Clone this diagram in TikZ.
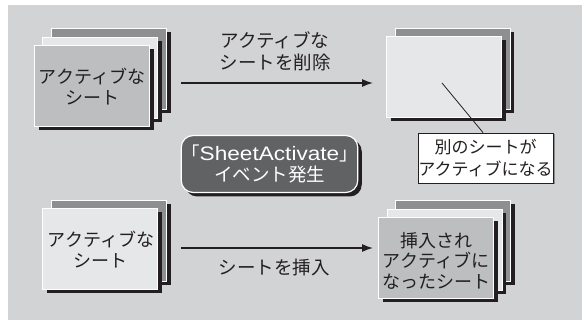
\documentclass[tikz,border=0pt]{standalone}
\usepackage{fontspec}
\setmainfont{Noto Sans CJK JP}
\newfontfamily\latinf[FakeStretch=1.16]{Liberation Sans}
\usetikzlibrary{arrows.meta,shadows}
\definecolor{bg}{HTML}{D2D3D5}
\definecolor{dk}{HTML}{8E8F91}
\definecolor{md}{HTML}{BDBEC0}
\definecolor{lt}{HTML}{E6E7E8}
\definecolor{ev}{HTML}{616264}
\definecolor{ink}{HTML}{231F20}
\tikzset{
  sheet/.style={rectangle, draw=white, line width=0.9pt, minimum width=115pt, minimum height=81pt, inner sep=0pt,
    drop shadow={shadow xshift=4pt, shadow yshift=-4pt, fill=ink, opacity=1}},
  sdark/.style={sheet, fill=dk},
  smid/.style={sheet, fill=md},
  slight/.style={sheet, fill=lt},
  txt/.style={font=\fontsize{18pt}{20.5pt}\selectfont, text=ink, align=center, inner sep=0pt},
  lbl/.style={txt, font=\fontsize{18.5pt}{22pt}\selectfont},
  arr/.style={draw=ink, line width=1.3pt, -{Latex[length=11pt,width=8pt]}},
  thin/.style={draw=ink, line width=0.8pt}
}
\begin{document}
\begin{tikzpicture}[x=1pt,y=-1pt]
\useasboundingbox (0,0) rectangle (582,320);
\fill[bg] (8,5) rectangle (582,320);
% top-left stack
\node[sdark] (tlb) at (109,69) {};
\node[slight] (tlm) at (100,78) {};
\node[smid] (tlf) at (92,86) {};
\node[txt] (tlt) at (92,86.5) {アクティブな\\シート};
% top-right stack
\node[sdark] (trb) at (452.5,69) {};
\node[slight] (trf) at (444,77) {};
% bottom-left stack
\node[sdark] (blb) at (109,240.5) {};
\node[slight] (blf) at (100,248.5) {};
\node[txt] (blt) at (101,249.5) {アクティブな\\シート};
% bottom-right stack
\node[sdark] (brb) at (453,241) {};
\node[slight] (brm) at (444.5,249.5) {};
\node[smid] (brf) at (436,257.5) {};
\node[txt] (brt) at (436,260.5) {挿入され\\アクティブに\\なったシート};
% arrows
\coordinate (a1s) at (181,83);
\coordinate (a1e) at (373,83);
\draw[arr] (a1s) -- (a1e);
\node[lbl] (a1l) at (275,51) {アクティブな\\シートを削除};
\coordinate (a2s) at (181,248);
\coordinate (a2e) at (373,248);
\draw[arr] (a2s) -- (a2e);
\node[lbl] (a2l) at (274,267.5) {シートを挿入};
% event box
\node[rectangle, rounded corners=12pt, fill=ev, draw=white, line width=1.2pt, minimum width=171pt, minimum height=57pt,
  drop shadow={shadow xshift=4pt, shadow yshift=-4pt, fill=ink, opacity=1},
  font=\fontsize{18.5pt}{21pt}\selectfont, text=white, align=center, inner sep=0pt] (ev) at (269.5,164)
  {「{\latinf\fontsize{19.5pt}{21pt}\selectfont SheetActivate}」\\イベント発生};
% callout
\node[rectangle, fill=white, draw=ink, line width=0.9pt, minimum width=135pt, minimum height=50pt, inner sep=0pt,
  drop shadow={shadow xshift=1.5pt, shadow yshift=-1.5pt, fill=black!45, opacity=1},
  font=\fontsize{17pt}{22.5pt}\selectfont, text=ink, align=center] (co) at (485.5,158) {別のシートが\\アクティブになる};
\coordinate (pt) at (442,83);
\draw[thin] (pt) -- (co.north -| 483,0);
\end{tikzpicture}
\end{document}
